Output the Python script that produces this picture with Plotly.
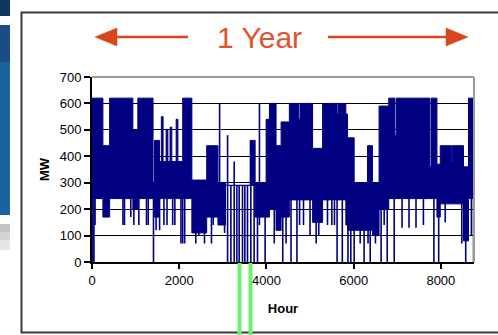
import plotly.graph_objects as go

# ---- data ----
# band segments: start hour, upper level (MW), lower level (MW)
seg_start = [0, 250, 404, 937, 1051, 1400, 1433, 1547, 1590, 1630, 1700, 1740, 1790, 1830,
             1930, 1970, 2080, 2290, 2630, 2888, 3060, 3627, 3741, 3993, 4069, 4221, 4336,
             4526, 4740, 4770, 5059, 5288, 5620, 5645, 5821, 5860, 6012, 6317, 6431,
             6583, 6805, 6945, 6975, 7745, 7775, 7910, 7986, 8240, 8260, 8519, 8634]
seg_high = [620, 440, 620, 500, 620, 300, 460, 380, 550, 380, 500, 380, 510, 380,
            540, 380, 620, 310, 440, 300, 290, 460, 300, 540, 600, 440, 530,
            600, 540, 600, 430, 600, 560, 600, 560, 470, 300, 440, 300,
            590, 620, 480, 620, 360, 620, 370, 440, 380, 440, 360, 620]
seg_low = [240, 170, 240, 200, 240, 240, 170, 240, 240, 240, 240, 240, 240, 240,
           240, 240, 240, 110, 170, 140, 290, 290, 170, 170, 200, 120, 170,
           235, 235, 235, 150, 235, 235, 235, 140, 120, 120, 120, 100,
           200, 240, 240, 240, 240, 240, 170, 220, 220, 220, 80, 240]
year_end = 8760

# single-hour excursions: hour, low MW, high MW
spike_hour = [20, 45, 70, 710, 745, 890, 960, 1074, 1250, 1290, 1410, 1470, 1550, 1650, 1720,
              1850, 1900, 2040, 2080, 2126, 2380, 2450, 2580, 2740, 2780, 2926, 3040,
              3109, 3185, 3261, 3322, 3375, 3451, 3505, 3566, 3642, 3718, 3795,
              3840, 3970, 4180, 4374, 4450, 4564, 4700, 4760, 4850, 5000, 5140, 5200, 5400,
              5500, 5560, 5620, 5740, 5870, 5935, 6012, 6150, 6240, 6330, 6380, 6500, 6630,
              6700, 6770, 6930, 7110, 7270, 7430, 7600, 7840, 7950, 8100, 8480, 8570, 8700,
              8750]
spike_lo = [0, 0, 140, 140, 140, 170, 140, 140, 140, 140, 0, 120, 120, 140, 140,
            140, 140, 70, 70, 70, 70, 100, 70, 70, 140, 140, 110,
            0, 0, 0, 0, 0, 0, 0, 0, 0, 0, 0,
            140, 0, 70, 0, 70, 0, 0, 140, 140, 100, 70, 100, 140,
            140, 140, 0, 0, 0, 0, 0, 70, 0, 70, 0, 70, 0,
            140, 0, 0, 130, 130, 130, 140, 0, 0, 150, 70, 0, 100,
            0]
spike_hi = [620, 400, 400, 300, 300, 300, 300, 300, 300, 300, 300, 300, 300, 300, 300,
            300, 300, 300, 300, 300, 200, 200, 200, 300, 300, 600, 300,
            480, 290, 380, 290, 290, 290, 290, 290, 460, 460, 300,
            600, 300, 300, 300, 300, 300, 300, 300, 300, 300, 300, 300, 300,
            300, 300, 300, 300, 300, 300, 300, 300, 300, 300, 300, 300, 300,
            300, 300, 300, 300, 300, 300, 300, 300, 300, 300, 300, 300, 300,
            620]

x_ticks = [0, 2000, 4000, 6000, 8000]
y_ticks = [0, 100, 200, 300, 400, 500, 600, 700]

NAVY = "#000080"
W, H = 498, 335
L, R, T, B = 92, 474, 77, 262  # plot area in pixels


def px(x):
    return (x - L) / (R - L)


def py(y):
    return (B - y) / (B - T)


band_x = seg_start + [year_end]
band_lo = seg_low + [seg_low[-1]]
band_hi = seg_high + [seg_high[-1]]

sx, sy = [], []
for h, lo, hi in zip(spike_hour, spike_lo, spike_hi):
    sx += [h, h, None]
    sy += [lo, hi, None]

fig = go.Figure()
fig.add_trace(go.Scatter(x=band_x, y=band_lo, mode="lines", line=dict(color=NAVY, width=1, shape="hv"),
                         showlegend=False, hoverinfo="skip"))
fig.add_trace(go.Scatter(x=band_x, y=band_hi, mode="lines", line=dict(color=NAVY, width=1, shape="hv"),
                         fill="tonexty", fillcolor=NAVY, showlegend=False, hoverinfo="skip"))
fig.add_trace(go.Scatter(x=sx, y=sy, mode="lines", line=dict(color=NAVY, width=1.6),
                         showlegend=False, hoverinfo="skip"))

shapes = []
# slide fragment on the left
for y0, y1, c in [(0, 16, "#12355b"), (25, 62, "#1b4c85"), (62, 215, "#1a62a0"),
                  (224, 232, "#c4c4c4"), (232, 240, "#d4d4d4"), (240, 250, "#e6e6e6")]:
    shapes.append(dict(type="rect", xref="paper", yref="paper", x0=px(0), x1=px(10),
                       y0=py(y0), y1=py(y1), fillcolor=c, line=dict(width=0), layer="below"))
# outer frame
shapes.append(dict(type="rect", xref="paper", yref="paper", x0=px(21.5), x1=px(505),
                   y0=py(12.5), y1=py(332.5), line=dict(color="#3a3a3a", width=2), layer="below"))
# grey top / right plot border
shapes.append(dict(type="line", xref="paper", yref="paper", x0=0, x1=1, y0=1, y1=1,
                   line=dict(color="#9a9a9a", width=2)))
shapes.append(dict(type="line", xref="paper", yref="paper", x0=1, x1=1, y0=0, y1=1,
                   line=dict(color="#9a9a9a", width=2)))
# arrows
RED = "#d8461c"
shapes.append(dict(type="line", xref="paper", yref="paper", x0=px(115), x1=px(188),
                   y0=py(37), y1=py(37), line=dict(color=RED, width=2.5)))
shapes.append(dict(type="line", xref="paper", yref="paper", x0=px(328), x1=px(450),
                   y0=py(37), y1=py(37), line=dict(color=RED, width=2.5)))
shapes.append(dict(type="path", xref="paper", yref="paper",
                   path=f"M {px(95)} {py(37)} L {px(117)} {py(28)} L {px(117)} {py(46)} Z",
                   fillcolor=RED, line=dict(color=RED, width=0.5)))
shapes.append(dict(type="path", xref="paper", yref="paper",
                   path=f"M {px(468)} {py(37)} L {px(446)} {py(28)} L {px(446)} {py(46)} Z",
                   fillcolor=RED, line=dict(color=RED, width=0.5)))
# green bars below the axis
for gx in [239.5, 250.5]:
    shapes.append(dict(type="line", xref="paper", yref="paper", x0=px(gx), x1=px(gx),
                       y0=py(263), y1=py(336), line=dict(color="#6ef06e", width=4)))

fig.update_layout(
    width=W, height=H, autosize=False,
    margin=dict(l=L, r=W - R, t=T, b=H - B, pad=0),
    paper_bgcolor="white", plot_bgcolor="white",
    font=dict(family="Liberation Sans, Arial, sans-serif", size=13, color="black"),
    shapes=shapes,
    annotations=[dict(text="1 Year", xref="paper", yref="paper", x=px(259), y=py(38),
                      showarrow=False, font=dict(size=30, color="#e0542c"),
                      xanchor="center", yanchor="middle")],
    xaxis=dict(range=[0, year_end], tickvals=x_ticks, ticktext=[str(v) for v in x_ticks],
               showgrid=False, zeroline=False, showline=True, linecolor="black", linewidth=2,
               ticks="outside", ticklen=5, tickcolor="black", tickwidth=1.5,
               title=dict(text="<b>Hour</b>", font=dict(size=13), standoff=17)),
    yaxis=dict(range=[0, 700], tickvals=y_ticks, ticktext=[str(v) for v in y_ticks],
               showgrid=True, gridcolor="black", gridwidth=1, zeroline=False,
               showline=True, linecolor="black", linewidth=2,
               ticks="outside", ticklen=6, tickcolor="black", tickwidth=1.5,
               title=dict(text="<b>MW</b>", font=dict(size=13), standoff=7)),
)

fig.write_html("out.html")
